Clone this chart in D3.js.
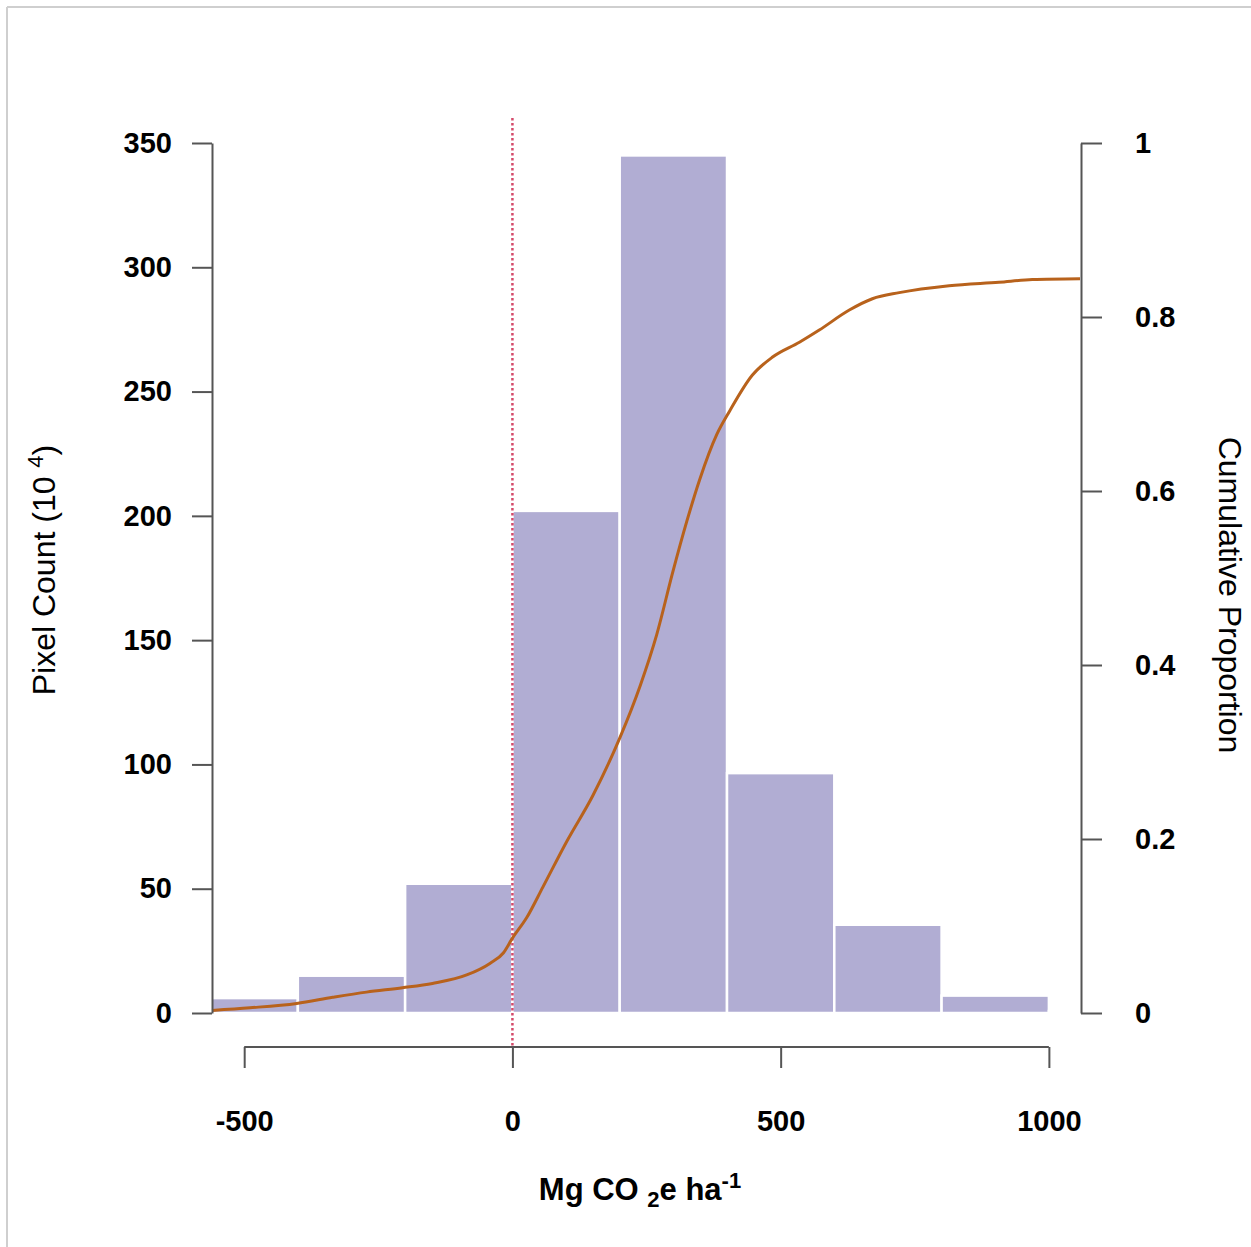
<!DOCTYPE html>
<html>
<head>
<meta charset="utf-8">
<script src="https://cdn.jsdelivr.net/npm/d3@7"></script>
<style>
  html, body { margin: 0; padding: 0; background: #fff; }
  svg { display: block; font-family: "Liberation Sans", Arial, sans-serif; }
</style>
</head>
<body>
<div id="chart"></div>
<script>
// Histogram bins (Mg CO2e ha-1) and pixel counts (10^4)
var binStarts = [-600, -400, -200, 0, 200, 400, 600, 800, 1000];
var binWidth = 200;
var counts = [6, 15, 52, 202, 345, 96.5, 35.5, 7, 0.8];

// Cumulative proportion curve
var cumX = [-560, -489, -402, -335, -272, -205, -149, -84, -42, -17, 0, 27, 57, 102, 150, 200,
  238, 269, 299, 325, 349, 381, 405, 447, 485, 535, 572, 628, 671, 721, 814, 907, 969, 1058];
var cumY = [0.003, 0.006, 0.011, 0.018, 0.024, 0.029, 0.034, 0.044, 0.057, 0.069, 0.086, 0.110,
  0.145, 0.198, 0.250, 0.316, 0.376, 0.435, 0.507, 0.565, 0.613, 0.665, 0.692, 0.733, 0.754,
  0.771, 0.785, 0.808, 0.821, 0.828, 0.836, 0.840, 0.843, 0.844];

// Tick values
var xTicks = [-500, 0, 500, 1000];
var leftTicks = [0, 50, 100, 150, 200, 250, 300, 350];
var rightTicks = [0, 0.2, 0.4, 0.6, 0.8, 1];

(function() {
  var W = 1251, H = 1247;
  var svg = d3.select('#chart').append('svg')
    .attr('width', W).attr('height', H);

  // frame lines (top and left only, as in the picture)
  svg.append('line').attr('x1', 7).attr('y1', 7).attr('x2', W).attr('y2', 7)
    .attr('stroke', '#cfcfcf').attr('stroke-width', 2);
  svg.append('line').attr('x1', 7).attr('y1', 7).attr('x2', 7).attr('y2', H)
    .attr('stroke', '#cfcfcf').attr('stroke-width', 2);

  var x = d3.scaleLinear().domain([-560, 1058]).range([212, 1080]);
  var yL = d3.scaleLinear().domain([0, 350]).range([1013, 143]);
  var yR = d3.scaleLinear().domain([0, 1]).range([1013, 143]);

  svg.append('clipPath').attr('id', 'plotClip')
    .append('rect').attr('x', 212).attr('y', 100).attr('width', 868).attr('height', 914);

  // bars
  svg.append('g').attr('clip-path', 'url(#plotClip)')
    .selectAll('rect')
    .data(binStarts)
    .join('rect')
    .attr('x', function(d) { return x(d); })
    .attr('width', function(d) { return x(d + binWidth) - x(d); })
    .attr('y', function(d, i) { return yL(counts[i]); })
    .attr('height', function(d, i) { return yL(0) - yL(counts[i]); })
    .attr('fill', '#b1add3')
    .attr('stroke', '#fff')
    .attr('stroke-width', 2.5);

  // zero reference line
  svg.append('line')
    .attr('x1', x(0)).attr('x2', x(0))
    .attr('y1', 118).attr('y2', 1046)
    .attr('stroke', '#d44a6a')
    .attr('stroke-width', 2.5)
    .attr('stroke-dasharray', '2.5,2.5');

  // cumulative curve
  var line = d3.line()
    .x(function(d) { return x(d[0]); })
    .y(function(d) { return yR(d[1]); })
    .curve(d3.curveMonotoneX);
  svg.append('path')
    .datum(cumX.map(function(v, i) { return [v, cumY[i]]; }))
    .attr('d', line)
    .attr('fill', 'none')
    .attr('stroke', '#b8621c')
    .attr('stroke-width', 3);

  function styleAxis(g) {
    g.selectAll('path, line').attr('stroke', '#555').attr('stroke-width', 2);
    g.selectAll('text')
      .attr('font-size', 29)
      .attr('font-weight', 'bold')
      .attr('fill', '#000')
      .attr('font-family', '"Liberation Sans", Arial, sans-serif');
  }

  // left axis
  svg.append('g')
    .attr('transform', 'translate(212,0)')
    .call(d3.axisLeft(yL).tickValues(leftTicks).tickSize(20).tickSizeOuter(0).tickPadding(20)
      .tickFormat(function(d) { return String(d); }))
    .call(styleAxis);

  // right axis
  svg.append('g')
    .attr('transform', 'translate(1081,0)')
    .call(d3.axisRight(yR).tickValues(rightTicks).tickSize(21).tickSizeOuter(0).tickPadding(33)
      .tickFormat(function(d) { return String(d); }))
    .call(styleAxis);

  // bottom axis, R style: line only spans the tick range
  var gx = svg.append('g')
    .attr('transform', 'translate(0,1047)')
    .call(d3.axisBottom(x).tickValues(xTicks).tickSize(21).tickSizeOuter(0).tickPadding(42)
      .tickFormat(function(d) { return String(d); }));
  gx.select('.domain').remove();
  gx.append('line')
    .attr('x1', x(xTicks[0])).attr('x2', x(xTicks[xTicks.length - 1]))
    .attr('y1', 0).attr('y2', 0);
  gx.call(styleAxis);

  // axis titles
  var yt = svg.append('text')
    .attr('transform', 'translate(55,570) rotate(-90)')
    .attr('text-anchor', 'middle')
    .attr('font-size', 32)
    .attr('fill', '#000');
  yt.append('tspan').text('Pixel Count (10 ');
  yt.append('tspan').attr('font-size', 22).attr('dy', -12).text('4');
  yt.append('tspan').attr('dy', 12).text(')');

  svg.append('text')
    .attr('transform', 'translate(1219,595) rotate(90)')
    .attr('text-anchor', 'middle')
    .attr('font-size', 32)
    .attr('fill', '#000')
    .text('Cumulative Proportion');

  var xt = svg.append('text')
    .attr('x', 640).attr('y', 1200)
    .attr('text-anchor', 'middle')
    .attr('font-size', 31)
    .attr('font-weight', 'bold')
    .attr('fill', '#000');
  xt.append('tspan').text('Mg CO ');
  xt.append('tspan').attr('font-size', 22).attr('dy', 7).text('2');
  xt.append('tspan').attr('dy', -7).text('e ha');
  xt.append('tspan').attr('font-size', 22).attr('dy', -12).text('-1');
})();
</script>
</body>
</html>
